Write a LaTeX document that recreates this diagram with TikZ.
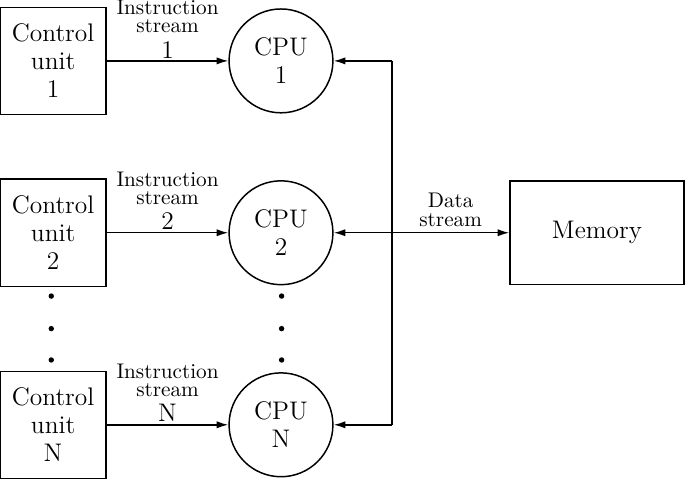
\documentclass[tikz,border=0pt]{standalone}
\usetikzlibrary{arrows.meta}

\tikzset{
  unitbox/.style={draw, line width=0.7pt, minimum width=50pt, minimum height=50.5pt,
    align=center, inner sep=0pt, font=\fontsize{12}{13.2}\selectfont},
  cpu/.style={draw, circle, line width=0.7pt, minimum size=49pt,
    align=center, inner sep=0pt, font=\fontsize{12}{13.2}\selectfont},
  lbl/.style={align=center, inner sep=1pt, font=\fontsize{10}{12}\selectfont},
  link/.style={line width=0.7pt, -{Latex[length=5.5pt,width=3.4pt]}}
}
\newcommand{\lnum}[1]{{\fontsize{12}{12}\selectfont #1}}

\begin{document}
\begin{tikzpicture}
  \useasboundingbox (0,0) rectangle (11.36,7.94);

  % control units
  \node[unitbox] (cu1) at (0.88,6.93) {Control\\unit\\1};
  \node[unitbox] (cu2) at (0.88,4.08) {Control\\unit\\2};
  \node[unitbox] (cuN) at (0.88,0.895) {Control\\unit\\N};

  % processors
  \node[cpu] (cpu1) at (4.66,6.93) {CPU\\1};
  \node[cpu] (cpu2) at (4.66,4.08) {CPU\\2};
  \node[cpu] (cpuN) at (4.66,0.895) {CPU\\N};

  \node[unitbox, minimum width=82pt, minimum height=49pt] (mem) at (9.90,4.08) {Memory};

  \coordinate (bus1) at (6.50,6.93);
  \coordinate (bus2) at (6.50,4.08);
  \coordinate (busN) at (6.50,0.895);

  \draw[link] (cu1) -- node[lbl, above] {Instruction\\[-3.5pt]stream\\[0.2pt]\lnum{1}} (cpu1);
  \draw[link] (cu2) -- node[lbl, above] {Instruction\\[-3.5pt]stream\\[0.2pt]\lnum{2}} (cpu2);
  \draw[link] (cuN) -- node[lbl, above] {Instruction\\[-3.5pt]stream\\[0.2pt]\lnum{N}} (cpuN);

  \draw[line width=0.7pt] (bus1) -- (busN);
  \draw[link] (bus1) -- (cpu1);
  \draw[link] (busN) -- (cpuN);
  \draw[link, {Latex[length=5.5pt,width=3.4pt]}-{Latex[length=5.5pt,width=3.4pt]}] (cpu2) -- (mem);
  \path (bus2) -- node[lbl, above, inner sep=2.8pt] {Data\\[-3pt]stream} (mem);

  % dots
  \foreach \y in {3.03,2.49,1.97} {
    \fill (0.85,\y) circle (0.045);
    \fill (4.67,\y) circle (0.045);
  };
\end{tikzpicture}
\end{document}
